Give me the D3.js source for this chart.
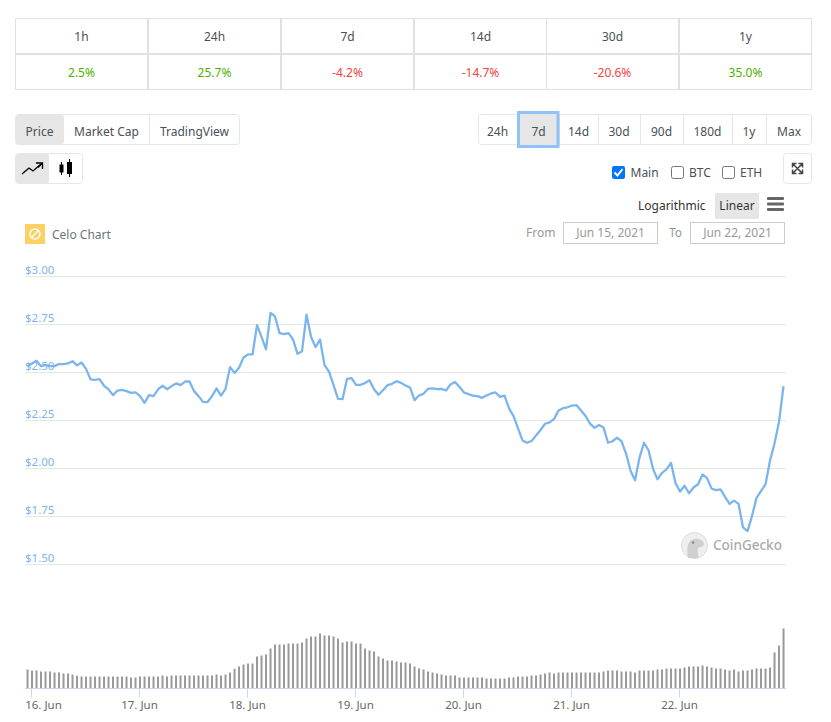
<!DOCTYPE html>
<html>
<head>
<meta charset="utf-8">
<script src="https://cdn.jsdelivr.net/npm/d3@7"></script>
<style>
    body { margin: 0; background: #fff; }
    svg { display: block; }
    text { font-family: "Noto Sans", sans-serif; font-size: 12px; fill: #495057; }
    .axis path { display: none; }
    .y_axis line { stroke: #e6e6e6; }
    .y_axis text { fill: #7cb5ec; font-size: 11.5px; }
    .x_axis line { stroke: #ccd6eb; }
    .x_axis text { fill: #666; font-size: 11.5px; }
</style>
</head>
<body>
<div id="chart"></div>
<script>
const period_labels = ["1h", "24h", "7d", "14d", "30d", "1y"];
const period_changes = [2.5, 25.7, -4.2, -14.7, -20.6, 35.0];

const metric_tabs = ["Price", "Market Cap", "TradingView"];
const range_tabs = ["24h", "7d", "14d", "30d", "90d", "180d", "1y", "Max"];

const price_ticks = [1.5, 1.75, 2, 2.25, 2.5, 2.75, 3];

// hourly price in USD
const price_values = [
    2.533, 2.547, 2.561, 2.533, 2.540, 2.533, 2.533, 2.544, 2.544, 2.547, 2.559, 2.537, 2.552, 2.519,
    2.464, 2.462, 2.465, 2.431, 2.412, 2.382, 2.406, 2.410, 2.403, 2.394, 2.396, 2.377, 2.342, 2.382,
    2.377, 2.412, 2.431, 2.413, 2.429, 2.443, 2.434, 2.453, 2.453, 2.403, 2.377, 2.347, 2.346, 2.377,
    2.417, 2.380, 2.415, 2.528, 2.498, 2.525, 2.578, 2.594, 2.594, 2.747, 2.686, 2.620, 2.811, 2.792,
    2.705, 2.700, 2.705, 2.672, 2.597, 2.611, 2.801, 2.686, 2.632, 2.672, 2.538, 2.504, 2.434, 2.363,
    2.361, 2.467, 2.471, 2.436, 2.436, 2.445, 2.460, 2.413, 2.384, 2.408, 2.434, 2.441, 2.455, 2.446,
    2.432, 2.422, 2.356, 2.380, 2.389, 2.415, 2.417, 2.413, 2.415, 2.406, 2.438, 2.450, 2.424, 2.396,
    2.387, 2.379, 2.377, 2.368, 2.380, 2.391, 2.396, 2.373, 2.379, 2.313, 2.273, 2.209, 2.146, 2.134,
    2.143, 2.172, 2.200, 2.233, 2.240, 2.257, 2.302, 2.314, 2.319, 2.328, 2.330, 2.302, 2.274, 2.234,
    2.212, 2.226, 2.213, 2.134, 2.142, 2.161, 2.142, 2.078, 1.988, 1.939, 2.057, 2.134, 2.095, 1.998,
    1.944, 1.977, 1.995, 2.029, 1.924, 1.880, 1.910, 1.871, 1.901, 1.918, 1.969, 1.950, 1.896, 1.887,
    1.891, 1.852, 1.816, 1.833, 1.816, 1.693, 1.674, 1.753, 1.847, 1.882, 1.918, 2.042, 2.130, 2.243,
    2.429
];

// hourly volume, arbitrary units since the chart has no volume axis
const volume_values = [
    19, 18, 18, 17, 17, 17, 16, 16, 15, 15, 14, 12.7, 12, 12,
    12, 12, 12, 12, 12, 12, 12, 12, 12, 11, 11, 12, 12, 12,
    12, 12, 13, 12, 13, 13, 13, 13, 13, 13, 13, 13, 13, 13,
    14, 13, 14, 16, 19.7, 22, 24, 25, 25, 32, 33, 34, 40, 44,
    44, 44, 45, 45, 45, 46, 50, 52, 52, 55, 53, 53, 52, 50,
    46, 47, 47, 45, 45, 40, 38, 37, 32, 30, 28, 28, 27, 26,
    26, 25, 22, 20, 19, 17, 16, 15, 14, 13, 13, 13, 11, 11,
    11, 11, 11, 11, 10, 10, 10, 10, 10, 11, 11, 12, 12, 12,
    13, 13, 14, 15, 16, 15, 16, 16, 16, 16, 16, 16, 16, 16,
    16, 16, 17, 18, 18, 18, 17, 17, 17, 16, 18, 18, 18, 18,
    19, 19, 20, 20, 20, 20, 21, 22, 22, 22, 23, 22, 21, 20,
    20, 19, 18, 19, 17, 18, 18, 19, 20, 20, 20, 21, 36, 43,
    60
];

const first_time = Date.UTC(2021, 5, 15, 23, 7);
const hour_ms = 3600000;
const times = price_values.map((_, i) => new Date(first_time + i * hour_ms));
const day_ticks = d3.range(16, 23).map(d => new Date(Date.UTC(2021, 5, d)));

const svg_width = 831, svg_height = 722;
const grid_left = 25, grid_right = 786;

let svg = d3.select("#chart").append("svg")
    .attr("width", svg_width)
    .attr("height", svg_height);

let x = d3.scaleTime()
    .domain([day_ticks[0], day_ticks[6]])
    .range([31.5, 679.5]);
let y = d3.scaleLinear()
    .domain([1.5, 3])
    .range([564.5, 276.5]);
let y_volume = d3.scaleLinear()
    .domain([0, 60])
    .range([688.5, 628.5]);

function add_text(parent, label, px, py, anchor = "start", fill = null) {
    let t = parent.append("text")
        .attr("x", px)
        .attr("y", py)
        .attr("text-anchor", anchor)
        .text(label);
    if (fill) t.style("fill", fill);
    return t;
}

function add_rect(parent, px, py, w, h, fill, stroke, rx = 0) {
    return parent.append("rect")
        .attr("x", px).attr("y", py)
        .attr("width", w).attr("height", h)
        .attr("rx", rx)
        .attr("fill", fill)
        .attr("stroke", stroke);
}

function draw_period_table() {
    let col = d3.scaleBand()
        .domain(period_labels)
        .range([15, 812]);
    let g = svg.append("g");
    period_labels.forEach((label, i) => {
        let cx = Math.round(col(label)) + 0.5, w = Math.round(col.bandwidth()) - 1;
        add_rect(g, cx, 18.5, w, 35, "#fff", "#dee2e6");
        add_rect(g, cx, 54.5, w, 35, "#fff", "#dee2e6");
        add_text(g, label, cx + w / 2, 41, "middle");
        const change = period_changes[i];
        add_text(g, change.toFixed(1) + "%", cx + w / 2, 77, "middle",
            change >= 0 ? "#4eb000" : "#f4433f");
    });
}

function draw_tab_group(tabs, edges, top, active) {
    let g = svg.append("g");
    add_rect(g, edges[0] + 0.5, top + 0.5, edges[edges.length - 1] - edges[0] - 1, 30, "#fff", "#e6e6e6", 3);
    tabs.forEach((label, i) => {
        const left = edges[i], right = edges[i + 1];
        if (i == active) {
            add_rect(g, left + 1, top + 1, right - left - 1, 29, "#e6e6e6", "none", 2);
        } else if (i > 0 && i - 1 != active) {
            g.append("line")
                .attr("x1", left + 0.5).attr("x2", left + 0.5)
                .attr("y1", top).attr("y2", top + 31)
                .attr("stroke", "#e6e6e6");
        }
        add_text(g, label, (left + right) / 2, top + 21.5, "middle");
    });
}

function draw_controls() {
    draw_tab_group(metric_tabs, [15, 64, 149, 240], 114, 0);
    draw_tab_group(range_tabs, [478, 517, 559, 598, 640, 683, 732, 766, 812], 114, -1);

    // selected range button
    add_rect(svg, 518.5, 112.5, 39.5, 34, "#e6e6e6", "#90c2f8").attr("stroke-width", 3);
    add_text(svg, "7d", 538.5, 135.5, "middle");

    // line / candle switch
    add_rect(svg, 15.5, 153.5, 67, 30, "#fff", "#e6e6e6", 3);
    add_rect(svg, 16, 154, 33, 29, "#e6e6e6", "none", 2);
    svg.append("path")
        .attr("d", "M22 174L29 168L33 171L41 164")
        .attr("fill", "none").attr("stroke", "#000").attr("stroke-width", 1.3);
    svg.append("path")
        .attr("d", "M36 163H42.5V169M42.5 163L38 167.5")
        .attr("fill", "none").attr("stroke", "#000").attr("stroke-width", 1.3);
    svg.append("path")
        .attr("d", "M61.5 162V175M69.5 159V177")
        .attr("stroke", "#000").attr("stroke-width", 1);
    add_rect(svg, 59.5, 164.5, 4, 8, "#000", "none");
    add_rect(svg, 67, 162, 5, 12, "#000", "none");

    // fullscreen button
    add_rect(svg, 783.5, 153.5, 28, 30, "#fff", "#e6e6e6", 3);
    svg.append("path")
        .attr("d", "M793 164L802 173M802 164L793 173M792.5 167.5V163.5H796.5M798.500 163.500H802.500V167.500M792.5 169.500V173.500H796.500M798.500 173.500H802.500V169.500")
        .attr("fill", "none").attr("stroke", "#444").attr("stroke-width", 1.5);

    // compare checkboxes
    add_rect(svg, 612, 166, 13, 13, "#0075ff", "none", 2);
    svg.append("path")
        .attr("d", "M614.500 172.500L617.500 175.500L622.500 169")
        .attr("fill", "none").attr("stroke", "#fff").attr("stroke-width", 2);
    add_rect(svg, 671.5, 166.5, 12, 12, "#fff", "#767676", 2);
    add_rect(svg, 722.5, 166.5, 12, 12, "#fff", "#767676", 2);
    add_text(svg, "Main", 630.5, 177);
    add_text(svg, "BTC", 689, 177);
    add_text(svg, "ETH", 740, 177);

    // scale switch
    add_text(svg, "Logarithmic", 638, 210, "start", "#333");
    add_rect(svg, 715, 193, 44, 26, "#e6e6e6", "none", 1);
    add_text(svg, "Linear", 737, 210, "middle", "#333");
    for (const bar_y of [197, 202.5, 208]) {
        add_rect(svg, 767, bar_y, 17, 3, "#666", "none", 1);
    }

    // date range
    add_text(svg, "From", 526, 237, "start", "#999");
    add_text(svg, "To", 669, 237, "start", "#999");
    add_rect(svg, 563.5, 222.5, 94, 21, "#fff", "#ccc");
    add_rect(svg, 690.5, 222.5, 94, 21, "#fff", "#ccc");
    add_text(svg, "Jun 15, 2021", 610.5, 237, "middle", "#999");
    add_text(svg, "Jun 22, 2021", 737.5, 237, "middle", "#999");

    // title
    add_rect(svg, 25, 224, 20, 20, "#fcd062", "none");
    svg.append("circle").attr("cx", 35).attr("cy", 234).attr("r", 5)
        .attr("fill", "none").attr("stroke", "#fff").attr("stroke-width", 1.5);
    svg.append("path").attr("d", "M31 238L39 230")
        .attr("stroke", "#fff").attr("stroke-width", 1.5);
    add_text(svg, "Celo Chart", 52, 239, "start", "#6c757d");
}

function draw_watermark() {
    let g = svg.append("g");
    g.append("circle").attr("cx", 694.5).attr("cy", 545.5).attr("r", 13)
        .attr("fill", "#efefef").attr("stroke", "#dcdcdc");
    g.append("path")
        .attr("d", "M688 558C686 548 688 540 694 539C699 538 704 541 704 544C704 547 699 547 698 548C697 551 698 555 699 558Z")
        .attr("fill", "#cfcfcf");
    g.append("circle").attr("cx", 693).attr("cy", 542.5).attr("r", 1.2).attr("fill", "#888");
    add_text(g, "CoinGecko", 713, 550, "start", "#aaa")
        .style("font-size", "13.5px")
        .style("font-weight", 500);
}

function draw_chart() {
    svg.append("g")
        .attr("class", "y_axis axis")
        .attr("transform", "translate(" + grid_left + ", 0)")
        .call(d3.axisRight(y)
            .offset(0)
            .tickValues(price_ticks)
            .tickSize(grid_right - grid_left)
            .tickFormat(d3.format("$.2f")))
        .call(g => g.selectAll("text")
            .attr("x", 0)
            .attr("dy", "-0.2em")
            .attr("text-anchor", "start"));

    svg.append("g")
        .selectAll("rect")
        .data(volume_values)
        .enter()
        .append("rect")
        .attr("x", (_, i) => x(times[i]) - 1)
        .attr("width", 2)
        .attr("y", d => y_volume(d))
        .attr("height", d => y_volume(0) - y_volume(d))
        .attr("fill", "#999");

    svg.append("path")
        .datum(price_values)
        .attr("fill", "none")
        .attr("stroke", "#7cb5ec")
        .attr("stroke-width", 2.3)
        .attr("stroke-linejoin", "round")
        .attr("d", d3.line()
            .x((_, i) => x(times[i]))
            .y(d => y(d)));

    svg.append("g")
        .attr("class", "x_axis axis")
        .attr("transform", "translate(0, " + y_volume(0) + ")")
        .call(d3.axisBottom(x)
            .offset(0)
            .tickValues(day_ticks)
            .tickSize(9)
            .tickFormat(d3.utcFormat("%-d. %b")))
        .call(g => g.selectAll("text")
            .attr("y", 12))
        .call(g => g.select("text")
            .attr("dx", 12));

    svg.append("line")
        .attr("x1", grid_left).attr("x2", grid_right)
        .attr("y1", y_volume(0)).attr("y2", y_volume(0))
        .attr("stroke", "#ccd6eb");
}

draw_period_table();
draw_controls();
draw_chart();
draw_watermark();
</script>
</body>
</html>
